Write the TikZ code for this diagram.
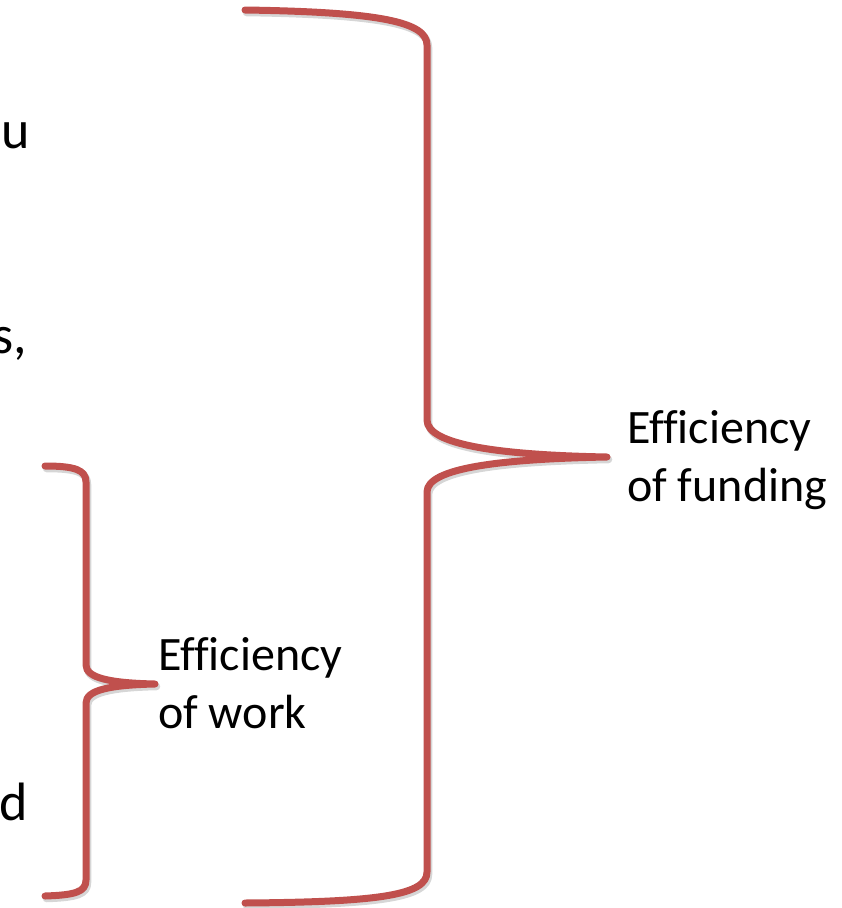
\documentclass[tikz,border=0pt]{standalone}
\usepackage{fontspec}
\setmainfont{Carlito}[Ligatures=CommonOff]
\definecolor{bracered}{HTML}{C0504D}
\begin{document}
\begin{tikzpicture}[x=1pt,y=-1pt,
  brace/.style={draw=bracered,line width=7pt,line cap=round,line join=round},
  braceshadow/.style={draw=black,opacity=0.16,line width=7.5pt,line cap=round,line join=round},
  label/.style={inner sep=0pt,align=left,font=\fontsize{48}{58}\selectfont},
  cut/.style={inner sep=0pt,font=\fontsize{54}{60}\selectfont}]
\useasboundingbox (0,0) rectangle (842,908);
\fill[white] (0,0) rectangle (842,908);
% shadows
\begin{scope}[shift={(1.5,2.5)}]
\draw[braceshadow] (245,10) .. controls (380,12) and (427,22) .. (427,45) -- (427,420)
  .. controls (427,445) and (500,455) .. (607,457)
  .. controls (500,459) and (427,468) .. (427,492) -- (427,872)
  .. controls (427,895) and (380,902) .. (245,903);
\draw[braceshadow] (45,466) .. controls (75,466) and (86,470) .. (86,482) -- (86,665)
  .. controls (86,678) and (110,683) .. (155,684)
  .. controls (110,685) and (86,690) .. (86,703) -- (86,880)
  .. controls (86,892) and (75,895) .. (45,896);
\end{scope}
% big brace
\coordinate (bigtip) at (607,457);
\draw[brace] (245,10) .. controls (380,12) and (427,22) .. (427,45) -- (427,420)
  .. controls (427,445) and (500,455) .. (bigtip)
  .. controls (500,459) and (427,468) .. (427,492) -- (427,872)
  .. controls (427,895) and (380,902) .. (245,903);
% small brace
\coordinate (smalltip) at (155,684);
\draw[brace] (45,466) .. controls (75,466) and (86,470) .. (86,482) -- (86,665)
  .. controls (86,678) and (110,683) .. (smalltip)
  .. controls (110,685) and (86,690) .. (86,703) -- (86,880)
  .. controls (86,892) and (75,895) .. (45,896);
% labels
\node[label,anchor=north west] (funding) at (627,410) {Efficiency\\of funding};
\node[label,anchor=north west] (work) at (158,637) {Efficiency\\of work};
% cut-off text at the left edge
\node[cut,anchor=base east] (cu) at (30,148) {u};
\node[cut,anchor=base east] (cs) at (27,353) {s,};
\node[cut,anchor=base east] (cd) at (28,820) {d};
\end{tikzpicture}
\end{document}
